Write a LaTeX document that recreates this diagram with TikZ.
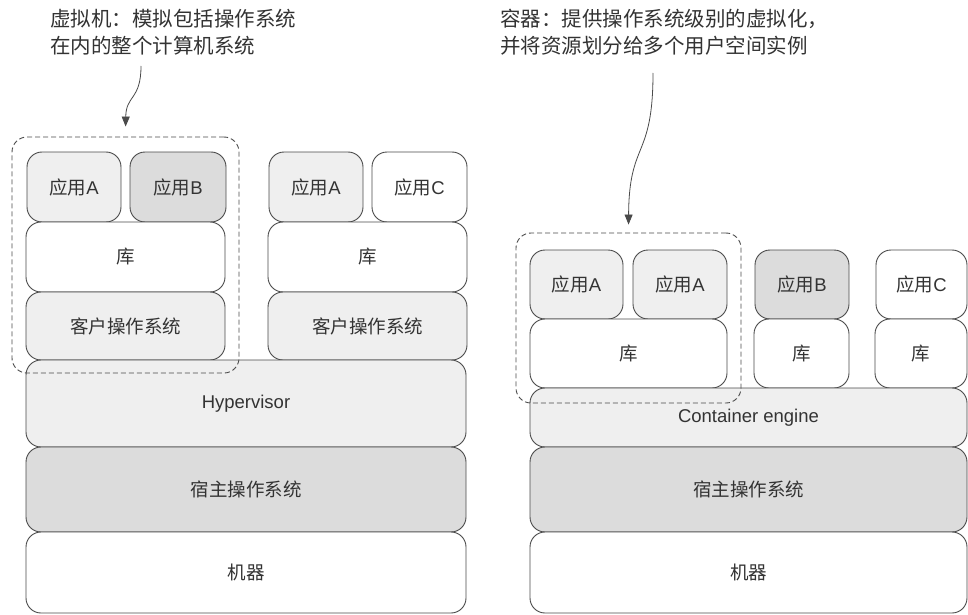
\documentclass[tikz,border=0pt]{standalone}
\usepackage{fontspec}
\setmainfont{Liberation Sans}
\newfontfamily\cjk{Noto Sans CJK SC}
\usetikzlibrary{arrows.meta}
\definecolor{fillL}{HTML}{EFEFEF}
\definecolor{fillM}{HTML}{DCDCDC}
\definecolor{edge}{HTML}{4A4A4A}
\definecolor{ink}{HTML}{333333}
\tikzset{
  box/.style={draw=edge, line width=0.9pt, rounded corners=15pt, inner sep=0pt,
    text=ink, font=\fontsize{18.5}{20}\selectfont},
  frame/.style={draw=edge, line width=0.9pt, dashed, dash pattern=on 5pt off 3pt, rounded corners=15pt},
  note/.style={text=ink, font=\cjk\fontsize{20.5}{27}\selectfont, align=left, inner sep=0pt, anchor=north west},
  arr/.style={draw=edge, line width=0.8pt, -{Triangle[length=10pt,width=8pt]}}
}
\newcommand{\bx}[7]{\node[box, fill=#6, minimum width={(#4-#2)*1pt}, minimum height={(#5-#3)*1pt}] (#1) at ({(#2+#4)/2},{(#3+#5)/2}) {#7};}
\newcommand{\fr}[5]{\node[frame, minimum width={(#4-#2)*1pt}, minimum height={(#5-#3)*1pt}] (#1) at ({(#2+#4)/2},{(#3+#5)/2}) {};}
\begin{document}
\begin{tikzpicture}[x=1pt,y=-1pt]
\useasboundingbox (0,0) rectangle (968,615);
% left: virtual machines
\bx{vmAa}{27}{152}{121}{222}{fillL}{{\cjk 应用}A}
\bx{vmBa}{130}{152}{226}{222}{fillM}{{\cjk 应用}B}
\bx{liba}{26}{222}{225}{292}{white}{\cjk 库}
\bx{gosa}{26}{292}{225}{360}{fillL}{\cjk 客户操作系统}
\bx{vmAb}{269}{152}{363}{222}{fillL}{{\cjk 应用}A}
\bx{vmCb}{372}{152}{467}{222}{white}{{\cjk 应用}C}
\bx{libb}{268}{222}{467}{292}{white}{\cjk 库}
\bx{gosb}{268}{292}{467}{360}{fillL}{\cjk 客户操作系统}
\bx{hyp}{26}{360}{466}{447}{fillL}{Hypervisor}
\bx{hosta}{26}{447}{466}{532}{fillM}{\cjk 宿主操作系统}
\bx{macha}{26}{532}{466}{613}{white}{\cjk 机器}
\fr{vmframe}{12}{137}{239}{373}
% right: containers
\bx{cAa}{530}{250}{623}{319}{fillL}{{\cjk 应用}A}
\bx{cAb}{633}{250}{727}{319}{fillL}{{\cjk 应用}A}
\bx{clibA}{530}{319}{727}{388}{white}{\cjk 库}
\bx{cB}{755}{250}{849}{319}{fillM}{{\cjk 应用}B}
\bx{clibB}{754}{319}{849}{388}{white}{\cjk 库}
\bx{cC}{876}{250}{967}{319}{white}{{\cjk 应用}C}
\bx{clibC}{875}{319}{967}{388}{white}{\cjk 库}
\bx{engine}{530}{388}{967}{447}{fillL}{Container engine}
\bx{hostb}{530}{447}{967}{532}{fillM}{\cjk 宿主操作系统}
\bx{machb}{530}{532}{967}{613}{white}{\cjk 机器}
\fr{ctframe}{516}{233}{741}{403}
% notes
\node[note] (note1) at (50,9) {虚拟机：模拟包括操作系统\\在内的整个计算机系统};
\node[note] (note2) at (500,9) {容器：提供操作系统级别的虚拟化，\\并将资源划分给多个用户空间实例};
\coordinate (s1) at (141,66);
\coordinate (s2) at (653,73);
\draw[arr, shorten >=10pt] (s1) .. controls (141,100) and (126,95) .. (vmframe.north);
\draw[arr, shorten >=8pt] (s2) .. controls (653,160) and (629,140) .. (ctframe.north);
\end{tikzpicture}
\end{document}
